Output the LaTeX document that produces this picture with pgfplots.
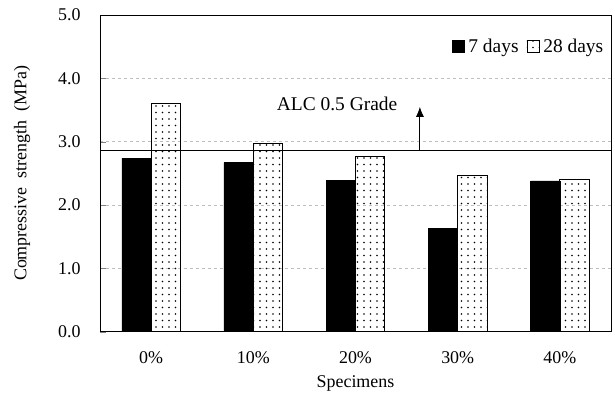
\documentclass[border=0pt]{standalone}
\usepackage{fontspec}
\setmainfont{Liberation Serif}
\usepackage{pgfplots}
\pgfplotsset{compat=1.18}
\usetikzlibrary{patterns.meta,arrows.meta}
\begin{document}
\begin{tikzpicture}[font=\fontsize{18}{21}\selectfont]
\begin{axis}[
  scale only axis,
  width=511bp, height=316.7bp,
  xmin=-0.5, xmax=4.5,
  ymin=0, ymax=5,
  xtick={0,1,2,3,4},
  xticklabels={0\%,10\%,20\%,30\%,40\%},
  ytick={0,1,2,3,4,5},
  yticklabels={0.0,1.0,2.0,3.0,4.0,5.0},
  every y tick label/.append style={anchor=east, xshift=-16bp},
  xticklabel style={yshift=-16bp},
  major x tick style={draw=none},
  ytick pos=left,
  tick align=inside,
  major tick length=6bp,
  ymajorgrids,
  grid style={dashed, gray!50, line width=0.8pt},
  axis line style={line width=0.8pt},
  xlabel={Specimens},
  ylabel={Compressive\ \ strength\ \ (MPa)},
  xlabel style={at={(axis description cs:0.5,-0.162)}, anchor=center},
  ylabel style={at={(axis description cs:-0.1526,0.5)}, anchor=center},
  bar width=0.287,
  legend style={draw=none, fill=none, at={(0.995,0.9)}, anchor=east, legend columns=2, font=\fontsize{19.5}{22}\selectfont, /tikz/every even column/.append style={column sep=6bp}},
  legend image code/.code={\draw[#1] (0bp,-6bp) rectangle (12bp,6bp); \path (14bp,0bp);},
  legend cell align=left,
]
\addplot[ybar, bar shift=-0.1435, fill=black, draw=black] coordinates {(0,2.74) (1,2.67) (2,2.39) (3,1.63) (4,2.38)};
\addlegendentry{7 days}
\addplot[ybar, bar shift=0.1435, draw=black, line width=0.8pt, pattern={Dots[distance=6.5bp, radius=0.8bp]}, pattern color=black] coordinates {(0,3.61) (1,2.98) (2,2.76) (3,2.46) (4,2.40)};
\addlegendentry{28 days}
\addplot[black, line width=0.8pt, forget plot] coordinates {(-0.5,2.87) (4.5,2.87)};
\addplot[black, line width=0.8pt, -{Latex[length=10bp,width=8bp]}, forget plot] coordinates {(2.63,2.87) (2.63,3.55)};
\node[font=\fontsize{19.5}{22}\selectfont] at (axis cs:1.82,3.6) {ALC 0.5 Grade};
\end{axis}
\path (current axis.south west) ++(-100bp,-73.3bp) rectangle ++(615bp,405bp);
\end{tikzpicture}
\end{document}
